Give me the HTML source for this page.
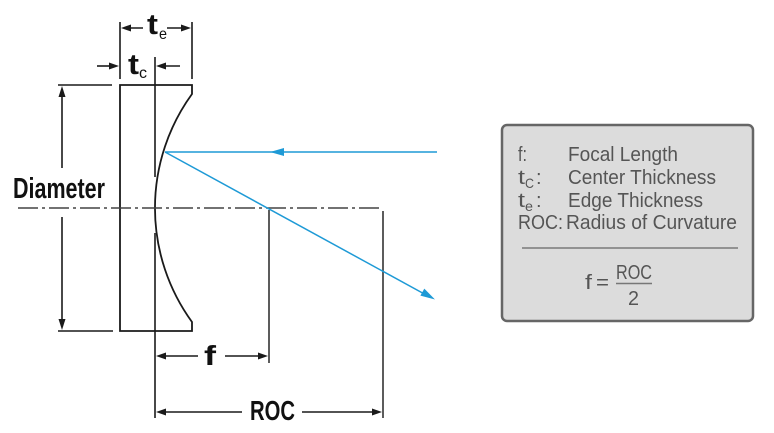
<!DOCTYPE html>
<html><head><meta charset="utf-8"><style>
html,body{margin:0;padding:0;background:#fff;}
svg{display:block;}
</style></head><body>
<svg width="774" height="433" viewBox="0 0 774 433" xmlns="http://www.w3.org/2000/svg">
<g fill="none" stroke="#1a1a1a" stroke-width="1.6">
  <path d="M192,94 L192,85 L120,85 L120,331 L192,331 L192,322 A194,194 0 0 1 192,94 Z" stroke-width="1.8"/>
  <line x1="155" y1="57" x2="155" y2="177"/>
  <line x1="155" y1="233" x2="155" y2="418"/>
  <line x1="120" y1="22" x2="120" y2="79"/>
  <line x1="192" y1="22" x2="192" y2="79"/>
  <line x1="126" y1="28" x2="143" y2="28"/>
  <line x1="167" y1="28" x2="186" y2="28"/>
  <line x1="97" y1="66" x2="113" y2="66"/>
  <line x1="162" y1="66" x2="180" y2="66"/>
  <line x1="58" y1="85" x2="112" y2="85"/>
  <line x1="58" y1="331" x2="113" y2="331"/>
  <line x1="62" y1="95" x2="62" y2="168"/>
  <line x1="62" y1="217" x2="62" y2="321"/>
  <line x1="269" y1="210" x2="269" y2="363" stroke="#333"/>
  <line x1="383" y1="211" x2="383" y2="418" stroke="#333"/>
  <line x1="164" y1="356" x2="198" y2="356"/>
  <line x1="225" y1="356" x2="260" y2="356"/>
  <line x1="164" y1="412" x2="242" y2="412"/>
  <line x1="302" y1="412" x2="374" y2="412"/>
</g>
<line x1="18" y1="208" x2="383" y2="208" stroke="#444" stroke-width="1.6" stroke-dasharray="20 4 3 4"/>
<g fill="#1a1a1a">
  <polygon points="121,28 131,24.5 131,31.5"/>
  <polygon points="191,28 181,24.5 181,31.5"/>
  <polygon points="119,66 109,62.5 109,69.5"/>
  <polygon points="156,66 166,62.5 166,69.5"/>
  <polygon points="62,86 58.5,97 65.5,97"/>
  <polygon points="62,330 58.5,319 65.5,319"/>
  <polygon points="156,356 166,352.5 166,359.5"/>
  <polygon points="268,356 258,352.5 258,359.5"/>
  <polygon points="156,412 166,408.5 166,415.5"/>
  <polygon points="382,412 372,408.5 372,415.5"/>
</g>
<g stroke="#1e9ad6" stroke-width="1.5" fill="none">
  <line x1="165" y1="152" x2="437" y2="152"/>
  <line x1="165" y1="152" x2="428" y2="296"/>
</g>
<g fill="#1e9ad6">
  <polygon points="270,152 284,148 284,156"/>
  <polygon points="435,299.5 420.4,295.6 424.3,288.6"/>
</g>
<g font-family="'Liberation Sans', sans-serif" fill="#111">
  <text x="13" y="198" font-size="29" font-weight="bold" textLength="92" lengthAdjust="spacingAndGlyphs">Diameter</text>
  <text x="147" y="34" font-size="29" font-weight="bold" textLength="11" lengthAdjust="spacingAndGlyphs">t</text>
  <text x="159" y="39" font-size="16" textLength="8" lengthAdjust="spacingAndGlyphs">e</text>
  <text x="128" y="74" font-size="29" font-weight="bold" textLength="11" lengthAdjust="spacingAndGlyphs">t</text>
  <text x="139" y="78" font-size="16" textLength="8" lengthAdjust="spacingAndGlyphs">c</text>
  <text x="204" y="365" font-size="28" font-weight="bold" textLength="12" lengthAdjust="spacingAndGlyphs">f</text>
  <text x="250" y="420" font-size="28" font-weight="bold" textLength="45" lengthAdjust="spacingAndGlyphs">ROC</text>
</g>
<rect x="502" y="125" width="251" height="196" rx="5" ry="5" fill="#dcdcdc" stroke="#666" stroke-width="2.5"/>
<g font-family="'Liberation Sans', sans-serif" fill="#555" font-size="20">
  <text x="518" y="161" textLength="9" lengthAdjust="spacingAndGlyphs">f:</text>
  <text x="568" y="161" textLength="110" lengthAdjust="spacingAndGlyphs">Focal Length</text>
  <text x="518" y="184" textLength="7" lengthAdjust="spacingAndGlyphs">t</text>
  <text x="525" y="188" font-size="14" textLength="9" lengthAdjust="spacingAndGlyphs">C</text>
  <text x="536" y="184">:</text>
  <text x="568" y="184" textLength="148" lengthAdjust="spacingAndGlyphs">Center Thickness</text>
  <text x="518" y="207" textLength="7" lengthAdjust="spacingAndGlyphs">t</text>
  <text x="525" y="211" font-size="14" textLength="8" lengthAdjust="spacingAndGlyphs">e</text>
  <text x="536" y="207">:</text>
  <text x="568" y="207" textLength="135" lengthAdjust="spacingAndGlyphs">Edge Thickness</text>
  <text x="518" y="229" textLength="45" lengthAdjust="spacingAndGlyphs">ROC:</text>
  <text x="566" y="229" textLength="171" lengthAdjust="spacingAndGlyphs">Radius of Curvature</text>
  <text x="585" y="289" textLength="7" lengthAdjust="spacingAndGlyphs">f</text>
  <text x="596" y="289" textLength="13" lengthAdjust="spacingAndGlyphs">=</text>
  <text x="616" y="279" textLength="36" lengthAdjust="spacingAndGlyphs">ROC</text>
  <text x="628" y="305" textLength="11" lengthAdjust="spacingAndGlyphs">2</text>
</g>
<line x1="522" y1="248" x2="738" y2="248" stroke="#666" stroke-width="1.2"/>
<line x1="616" y1="283.5" x2="652" y2="283.5" stroke="#777" stroke-width="1.5"/>
</svg>
</body></html>
